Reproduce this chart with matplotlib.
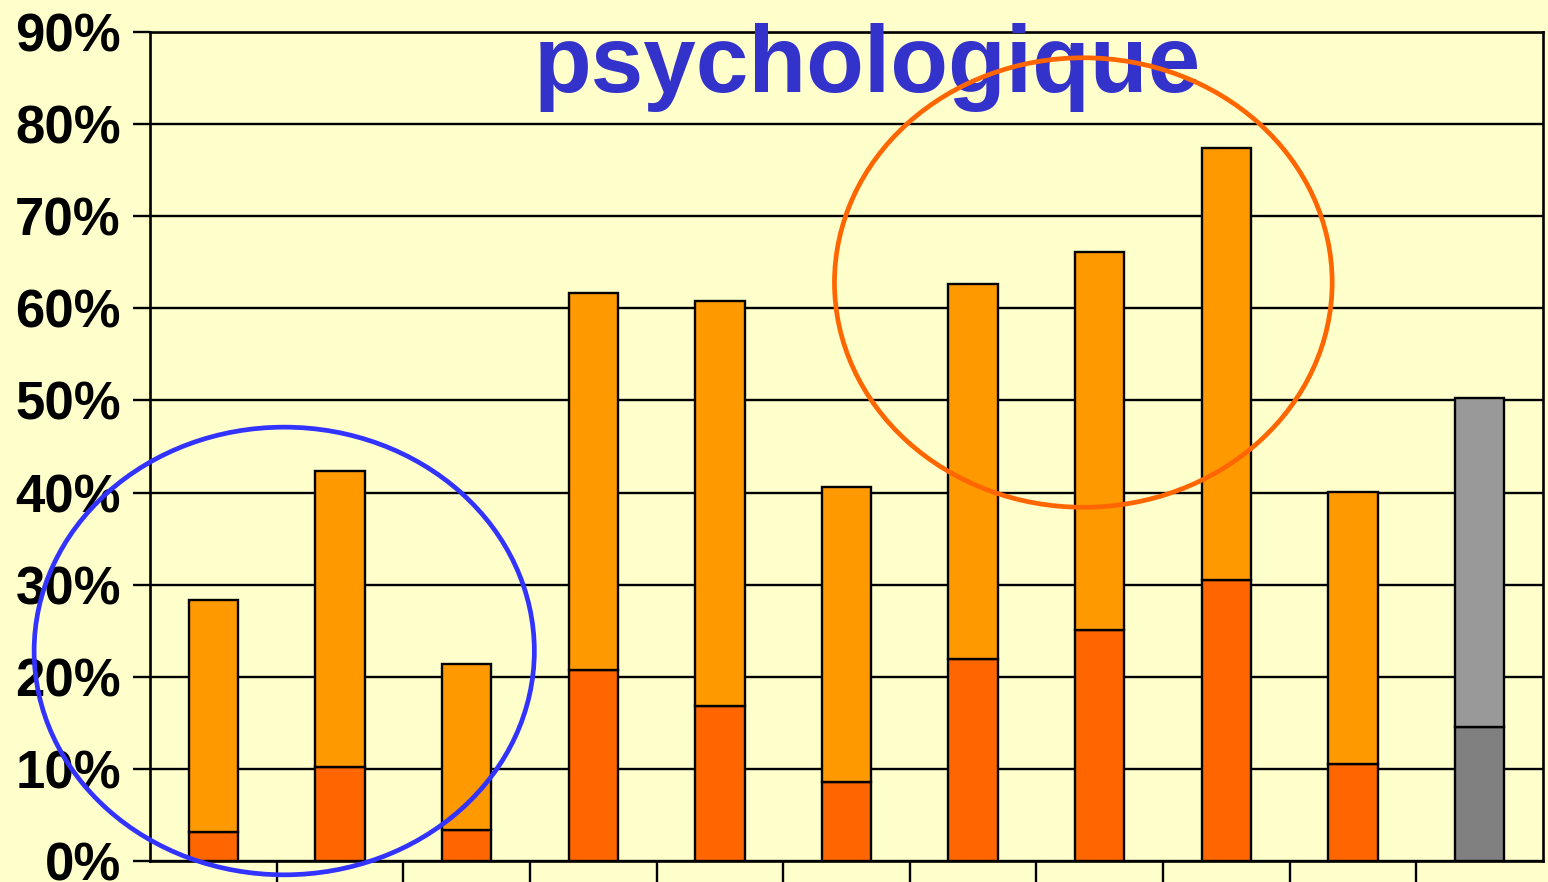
import matplotlib
matplotlib.use("Agg")
import matplotlib.pyplot as plt
from matplotlib.patches import Ellipse
import numpy as np

# Data (percent)
categories = list(range(11))
dark_values = [3.1, 10.2, 3.4, 20.7, 16.8, 8.6, 21.9, 25.1, 30.5, 10.5, 14.5]
total_values = [28.3, 42.3, 21.4, 61.7, 60.8, 40.6, 62.6, 66.1, 77.4, 40.1, 50.3]
light_values = [t - d for t, d in zip(total_values, dark_values)]
dark_colors = ["#FF6600"] * 10 + ["#808080"]
light_colors = ["#FF9900"] * 10 + ["#999999"]
ytick_values = [0, 10, 20, 30, 40, 50, 60, 70, 80, 90]
ytick_labels = [f"{v}%" for v in ytick_values]
title_text = "psychologique"

plt.rcParams['font.family'] = ['Liberation Sans', 'DejaVu Sans']

W, H = 1548, 882
fig = plt.figure(figsize=(W / 100, H / 100), dpi=100)
bg = "#FFFFCC"
fig.patch.set_facecolor(bg)
ax = fig.add_axes([150 / W, 1 - 861 / H, (1543 - 150) / W, (861 - 32) / H])
ax.set_facecolor(bg)

x = np.arange(len(categories))
bw = 0.39
ax.bar(x, dark_values, width=bw, color=dark_colors, edgecolor="black", linewidth=1.7, zorder=3)
ax.bar(x, light_values, width=bw, bottom=dark_values, color=light_colors,
       edgecolor="black", linewidth=1.7, zorder=3)

ax.set_xlim(-0.5, len(categories) - 0.5)
ax.set_ylim(0, 90)
ax.set_yticks(ytick_values)
ax.set_yticklabels(ytick_labels, fontsize=38, fontweight="bold")
ax.set_xticks(x[:-1] + 0.5)
ax.set_xticklabels([])
ax.yaxis.grid(True, color="black", linewidth=1.7, zorder=1)
ax.set_axisbelow(True)
ax.tick_params(axis="y", length=12, width=1.7, pad=9, direction="out")
ax.tick_params(axis="x", length=20, width=1.7, direction="out")
for s in ax.spines.values():
    s.set_color("black")
    s.set_linewidth(1.9)

# Title (drawn below the highlight ellipses)
ax.text(867 / W, 1 - 92 / H, title_text, transform=fig.transFigure, fontsize=68,
        fontweight="bold", color="#3333CC", ha="center", va="baseline",
        zorder=5, clip_on=False)

# Highlight ellipses
e1 = Ellipse((0.56, 22.8), 3.95, 48.6, fill=False, edgecolor="#3333FF",
             linewidth=3.4, clip_on=False, zorder=6)
e2 = Ellipse((6.87, 62.8), 3.93, 48.8, fill=False, edgecolor="#FF6600",
             linewidth=3.4, clip_on=False, zorder=6)
ax.add_patch(e1)
ax.add_patch(e2)

fig.savefig("out.png", dpi=100, facecolor=bg)
